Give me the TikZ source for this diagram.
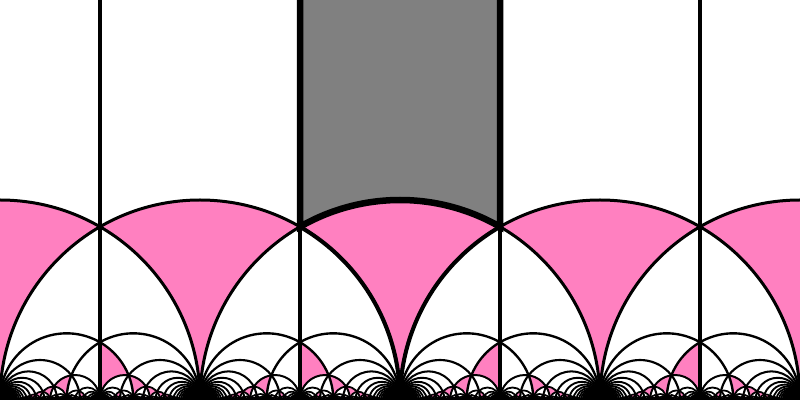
\documentclass[tikz,border=0pt]{standalone}
\usepackage{xfp}
\definecolor{tilepink}{RGB}{255,128,192}
\definecolor{domgray}{RGB}{128,128,128}
\tikzset{
  geo/.style={draw=black},
  fdom/.style={fill=domgray},
  ptile/.style={fill=tilepink},
  fedge/.style={draw=black, line width=3.7pt},
  sedge/.style={draw=black, line width=2.3pt},
  vline/.style={draw=black, line width=2.0pt},
}
\makeatletter
\newcount\SBN \SBN=220
\newcount\TileMax \TileMax=12
% circle through real points #1,#2 : centre \hc, radius \hr, left end \hl
\def\CircPar#1#2{%
  \edef\hc{\fpeval{((#1)+(#2))/2}}%
  \edef\hr{\fpeval{abs((#1)-(#2))/2}}%
  \edef\hl{\fpeval{\hc-\hr}}}
% diagonal geodesic of the Farey edge #1/#2 -- #3/#4
\def\Diag#1#2#3#4{%
  \edef\dden{\the\numexpr (#2)*(#2)-(#4)*(#4)\relax}%
  \ifnum\dden>\SBN \else\ifnum\dden<-\SBN \else
    \edef\dcx{\fpeval{((#1)*(#2)-(#3)*(#4))/(\dden)}}%
    \edef\drr{\fpeval{1/abs(\dden)}}%
    \edef\dlw{\fpeval{(1.2+1.8*(\drr)^0.4)*0.569}}%
    \draw[geo, line width=\dlw pt] (\dcx,0) circle[radius=\drr];%
  \fi\fi}
% pink tile: delta=#1/#2, beta=#3/#4, gamma=#5/#6
\def\TileB#1#2#3#4#5#6{%
  \begin{scope}
    \CircPar{(#3)/(#4)}{((#5)+(#1))/((#6)+(#2))}%
    \clip (\hl,0) arc[start angle=180,end angle=0,radius=\hr] -- cycle;
    \ifnum#2=#4\relax
      \edef\gx{\fpeval{(#5)/(#6)}}%
      \ifnum\numexpr2*(#1)\relax<#5\relax
        \clip (-3,0) rectangle (\gx,3);
      \else
        \clip (\gx,0) rectangle (3,3);
      \fi
    \else
      \CircPar{(#5)/(#6)}{((#1)-(#3))/((#2)-(#4))}%
      \clip (-3,0) -- (\hl,0) arc[start angle=180,end angle=0,radius=\hr] -- (3,0) -- (3,3) -- (-3,3) -- cycle;
    \fi
    \CircPar{(#5)/(#6)}{((#5)+2*(#1))/((#6)+2*(#2))}%
    \fill[ptile] (-3,0) -- (\hl,0) arc[start angle=180,end angle=0,radius=\hr] -- (3,0) -- (3,3) -- (-3,3) -- cycle;
  \end{scope}}
\def\Tile#1#2#3#4#5#6{%
  \ifnum#2<#4 \TileB{#1}{#2}{#3}{#4}{#5}{#6}%
  \else\ifnum#2>#4 \TileB{#3}{#4}{#1}{#2}{#5}{#6}%
  \else\ifnum#1<0 \TileB{#3}{#4}{#1}{#2}{#5}{#6}%
  \else \TileB{#1}{#2}{#3}{#4}{#5}{#6}%
  \fi\fi\fi}
% Stern-Brocot recursion for tiles
\def\SBT#1#2#3#4{%
  \ifnum\numexpr#2+#4\relax>\TileMax
    \expandafter\@gobble
  \else
    \expandafter\@firstofone
  \fi
  {\edef\SBtmp{\noexpand\SBTmed{#1}{#2}{#3}{#4}{\the\numexpr(#1)+(#3)\relax}{\the\numexpr#2+#4\relax}}\SBtmp}}
\def\SBTmed#1#2#3#4#5#6{%
  \Tile{#1}{#2}{#3}{#4}{#5}{#6}%
  \SBT{#1}{#2}{#5}{#6}%
  \SBT{#5}{#6}{#3}{#4}}
% Stern-Brocot recursion for lines
\def\SBL#1#2#3#4{%
  \ifnum\numexpr\ifnum#2<#4 (#2)*((#2)+2*(#4))\else (#4)*(2*(#2)+(#4))\fi\relax>\SBN
    \expandafter\@gobble
  \else
    \expandafter\@firstofone
  \fi
  {\edef\SBtmp{\noexpand\SBLmed{#1}{#2}{#3}{#4}{\the\numexpr(#1)+(#3)\relax}{\the\numexpr#2+#4\relax}}\SBtmp}}
\def\SBLmed#1#2#3#4#5#6{%
  \Diag{#1}{#2}{#5}{#6}%
  \Diag{#5}{#6}{#3}{#4}%
  \SBL{#1}{#2}{#5}{#6}%
  \SBL{#5}{#6}{#3}{#4}}
\makeatother
\begin{document}
\begin{tikzpicture}[x=4cm,y=4cm]
\useasboundingbox (-2,0) rectangle (2,2);
\clip (-2,0) rectangle (2,2);
\fill[white] (-2,0) rectangle (2,2);
% fundamental domain
\fill[fdom] (-0.5,2) -- (-0.5,{sqrt(3)/2}) arc[start angle=120,end angle=60,radius=1] -- (0.5,2) -- cycle;
% pink tiles at integer cusps
\TileB{1}{0}{-3}{1}{-2}{1}
\TileB{1}{0}{-2}{1}{-1}{1}
\TileB{1}{0}{-1}{1}{0}{1}
\TileB{1}{0}{0}{1}{1}{1}
\TileB{1}{0}{1}{1}{2}{1}
% pink tiles at other cusps
\SBT{-2}{1}{-1}{1}
\SBT{-1}{1}{0}{1}
\SBT{0}{1}{1}{1}
\SBT{1}{1}{2}{1}
% geodesics
\SBL{-2}{1}{-1}{1}
\SBL{-1}{1}{0}{1}
\SBL{0}{1}{1}{1}
\SBL{1}{1}{2}{1}
\foreach \n in {-3,...,3} \draw[geo, line width=1.707pt] (\n,0) circle[radius=1];
\foreach \xv in {-1.5,-0.5,0.5,1.5} \draw[vline] (\xv,0) -- (\xv,2);
% emphasised edges
\draw[sedge] (-0.5,{sqrt(3)/2}) arc[start angle=60,end angle=0,radius=1];
\draw[sedge] (0.5,{sqrt(3)/2}) arc[start angle=120,end angle=180,radius=1];
\draw[fedge] (-0.5,2) -- (-0.5,{sqrt(3)/2}) arc[start angle=120,end angle=60,radius=1] -- (0.5,2);
\end{tikzpicture}
\end{document}
